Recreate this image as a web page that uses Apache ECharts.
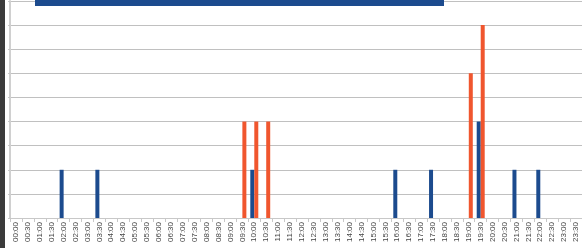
<!DOCTYPE html>
<html>
<head>
<meta charset="utf-8">
<style>
  html, body { margin: 0; padding: 0; background: #fff; }
  #chart { width: 582px; height: 248px; }
</style>
<script src="https://cdn.jsdelivr.net/npm/echarts@6/dist/echarts.min.js"></script>
</head>
<body>
<div id="chart"></div>
<script>
// half-hour slots 00:00 .. 23:30
const timeSlots = [
  "00:00", "00:30", "01:00", "01:30", "02:00", "02:30", "03:00", "03:30",
  "04:00", "04:30", "05:00", "05:30", "06:00", "06:30", "07:00", "07:30",
  "08:00", "08:30", "09:00", "09:30", "10:00", "10:30", "11:00", "11:30",
  "12:00", "12:30", "13:00", "13:30", "14:00", "14:30", "15:00", "15:30",
  "16:00", "16:30", "17:00", "17:30", "18:00", "18:30", "19:00", "19:30",
  "20:00", "20:30", "21:00", "21:30", "22:00", "22:30", "23:00", "23:30"
];

const blueValues = [
  0, 0, 0, 0, 2, 0, 0, 2,
  0, 0, 0, 0, 0, 0, 0, 0,
  0, 0, 0, 0, 2, 0, 0, 0,
  0, 0, 0, 0, 0, 0, 0, 0,
  2, 0, 0, 2, 0, 0, 0, 4,
  0, 0, 2, 0, 2, 0, 0, 0
];

const orangeValues = [
  0, 0, 0, 0, 0, 0, 0, 0,
  0, 0, 0, 0, 0, 0, 0, 0,
  0, 0, 0, 4, 4, 4, 0, 0,
  0, 0, 0, 0, 0, 0, 0, 0,
  0, 0, 0, 0, 0, 0, 6, 8,
  0, 0, 0, 0, 0, 0, 0, 0
];

const BLUE = "#1c4b8e";
const ORANGE = "#f0562e";

const chart = echarts.init(document.getElementById("chart"));

chart.setOption({
  animation: false,
  backgroundColor: "#ffffff",
  grid: { left: 10, right: 0, top: 1, bottom: 30, containLabel: false },
  xAxis: {
    type: "category",
    data: timeSlots,
    boundaryGap: true,
    axisLine: { lineStyle: { color: "#c8c8c8", width: 1 } },
    axisTick: { show: true, alignWithLabel: false, length: 4, lineStyle: { color: "#c8c8c8" } },
    axisLabel: {
      interval: 0,
      rotate: 90,
      margin: 4,
      fontFamily: "Liberation Sans",
      fontSize: 8,
      color: "#444"
    }
  },
  yAxis: {
    type: "value",
    min: 0,
    max: 9,
    interval: 1,
    axisLine: { show: true, lineStyle: { color: "#d0d0d0", width: 2 } },
    axisTick: { show: true, length: 2, lineStyle: { color: "#c8c8c8" } },
    axisLabel: { show: false },
    splitLine: { lineStyle: { color: "#c0c0c0", width: 1 } }
  },
  series: [
    {
      name: "blue",
      type: "bar",
      data: blueValues,
      barWidth: 4,
      barGap: "0%",
      itemStyle: { color: BLUE }
    },
    {
      name: "orange",
      type: "bar",
      data: orangeValues,
      barWidth: 4,
      barGap: "0%",
      itemStyle: { color: ORANGE }
    }
  ],
  graphic: [
    { type: "rect", left: 0, top: 0, shape: { width: 5, height: 248 }, style: { fill: "#3b3b3b" }, z: 100 },
    { type: "rect", left: 35, top: 0, shape: { width: 409, height: 6 }, style: { fill: BLUE }, z: 100 }
  ]
});
</script>
</body>
</html>
